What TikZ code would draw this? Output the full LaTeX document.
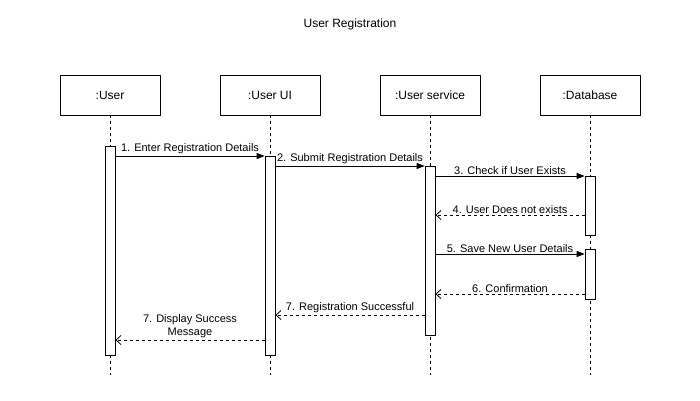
\documentclass[tikz,border=0pt]{standalone}
\usepackage{fontspec}
\setmainfont{Liberation Sans}
\usetikzlibrary{arrows.meta}
\begin{document}
\begin{tikzpicture}[x=1pt,y=-1pt,
 line width=0.8pt,
 head/.style={draw, minimum width=100pt, minimum height=40pt, font=\fontsize{12}{14}\selectfont, inner sep=0pt},
 actbar/.style={draw, fill=white, minimum width=10pt, inner sep=0pt},
 life/.style={dash pattern=on 3pt off 3pt},
 call/.style={-{Triangle[length=8pt,width=6pt]}},
 ret/.style={dash pattern=on 3pt off 3pt, -{Straight Barb[length=5pt,width=9pt]}},
 lbl/.style={font=\fontsize{11}{13}\selectfont, inner sep=1.5pt, above, align=center}
]
\fill[white] (0,0) rectangle (700,400);
\useasboundingbox (0,0) rectangle (700,400);

\node[font=\fontsize{12}{14}\selectfont] (title) at (350,24) {User Registration};

% headers
\node[head] (hU)  at (110,95) {:User};
\node[head] (hUI) at (270,95) {:User UI};
\node[head] (hS)  at (430,95) {:User service};
\node[head] (hD)  at (590,95) {:Database};

% lifeline ends
\coordinate (eU)  at (110,375);
\coordinate (eUI) at (270,375);
\coordinate (eS)  at (430,375);
\coordinate (eD)  at (590,375);

\draw[life] (hU.south) -- (eU);
\draw[life] (hUI.south) -- (eUI);
\draw[life] (hS.south) -- (eS);
\draw[life] (hD.south) -- (eD);

% activation bars
\node[actbar, minimum height=209pt] (aU)  at (110,250.5) {};
\node[actbar, minimum height=199pt] (aUI) at (270,255.5) {};
\node[actbar, minimum height=169pt] (aS)  at (430,250.5) {};
\node[actbar, minimum height=59pt]  (aD1) at (590,205.5) {};
\node[actbar, minimum height=50pt]  (aD2) at (590,274) {};

% messages
\draw[call] (aU.east |- 0,156) -- node[lbl] {1. Enter Registration Details} (aUI.west |- 0,156);
\draw[call] (aUI.east |- 0,166) -- node[lbl] {2. Submit Registration Details} (aS.west |- 0,166);
\draw[call] (aS.east |- 0,176) -- node[lbl] {3. Check if User Exists} (aD1.west |- 0,176);
\draw[ret]  (aD1.west |- 0,215) -- node[lbl] {4. User Does not exists} (aS.east |- 0,215);
\draw[call] (aS.east |- 0,254) -- node[lbl] {5. Save New User Details} (aD2.west |- 0,254);
\draw[ret]  (aD2.west |- 0,294) -- node[lbl] {6. Confirmation} (aS.east |- 0,294);
\draw[ret]  (aS.west |- 0,315) -- node[lbl] {7. Registration Successful} (aUI.east |- 0,315);
\draw[ret]  (aUI.west |- 0,340) -- node[lbl] {7. Display Success\\Message} (aU.east |- 0,340);
\end{tikzpicture}
\end{document}
